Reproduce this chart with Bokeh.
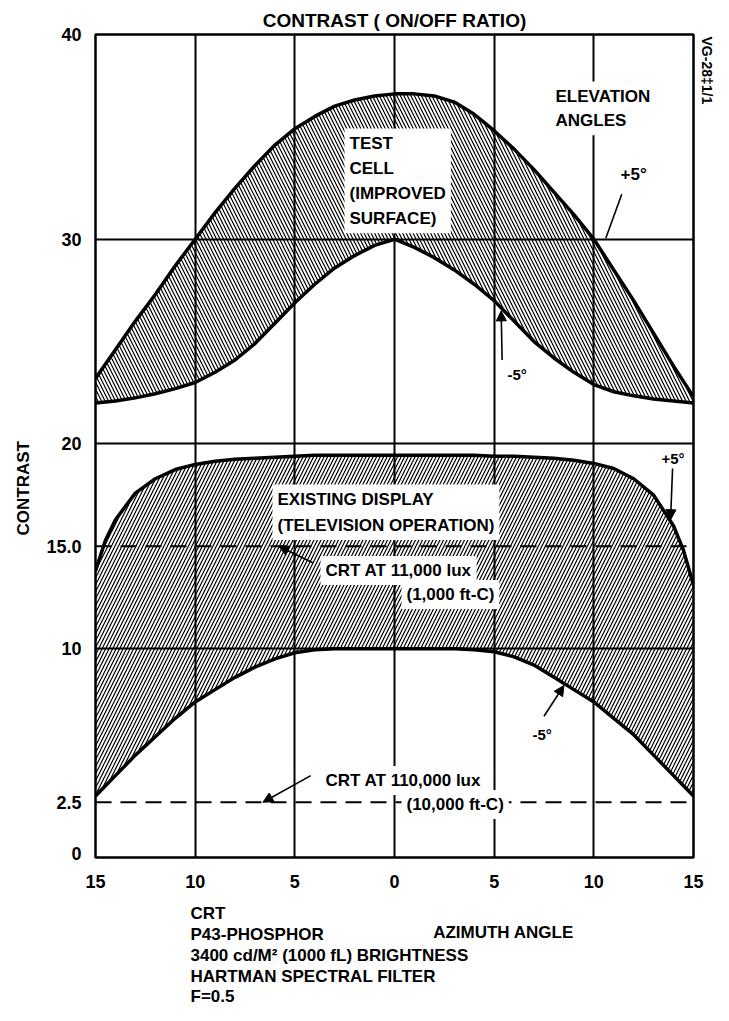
from bokeh.plotting import figure
from bokeh.models import FixedTicker, Span, Label, Arrow, NormalHead, Range1d, Title
from bokeh.layouts import column
from bokeh.embed import file_html
from bokeh.resources import INLINE

# ---------------- data ----------------
azimuth = [-15, -14, -13, -12, -11, -10, -9, -8, -7, -6, -5, -4, -3, -2, -1, 0,
           1, 2, 3, 4, 5, 6, 7, 8, 9, 10, 11, 12, 13, 14, 15]
# Test cell (improved surface), +5 deg elevation (upper) and -5 deg (lower)
test_upper = [23.2, 24.6, 26.0, 27.3, 28.7, 30.0, 31.3, 32.5, 33.6, 34.6, 35.4,
              36.0, 36.5, 36.8, 37.0, 37.1, 37.1, 37.0, 36.7, 36.1, 35.3, 34.4,
              33.4, 32.3, 31.2, 30.0, 28.5, 27.0, 25.4, 23.8, 22.3]
test_lower = [22.0, 22.1, 22.25, 22.45, 22.7, 23.0, 23.5, 24.1, 24.9, 25.9, 26.9,
              27.8, 28.6, 29.2, 29.7, 30.0, 29.6, 29.1, 28.5, 27.8, 27.0, 26.0,
              25.0, 24.2, 23.5, 22.9, 22.55, 22.35, 22.2, 22.1, 22.0]
# Existing display (television operation)
exist_azimuth = [-15, -14.5, -14, -13, -12, -11, -10, -9, -8, -7, -6, -5, -4, -3, -2, -1, 0,
                 1, 2, 3, 4, 5, 6, 7, 8, 9, 10, 11, 12, 13, 14, 14.5, 15]
exist_upper = [13.8, 15.3, 16.3, 17.6, 18.3, 18.75, 19.0, 19.15, 19.25, 19.3, 19.35, 19.4,
               19.45, 19.45, 19.45, 19.45, 19.45, 19.45, 19.45, 19.45, 19.45, 19.4, 19.4,
               19.35, 19.3, 19.2, 19.05, 18.8, 18.3, 17.5, 16.0, 14.8, 13.1]
exist_lower = [2.8, 3.3, 3.8, 4.8, 5.7, 6.6, 7.4, 8.0, 8.6, 9.1, 9.5, 9.8, 9.95, 10.0,
               10.0, 10.0, 10.0, 10.0, 10.0, 10.0, 9.95, 9.85, 9.6, 9.2, 8.6, 8.0, 7.4,
               6.6, 5.8, 4.8, 3.8, 3.3, 2.8]

x_ticks = [-15, -10, -5, 0, 5, 10, 15]
x_tick_labels = ["15", "10", "5", "0", "5", "10", "15"]
y_ticks = [0, 2.5, 10, 15, 20, 30, 40]
y_tick_labels = ["0", "2.5", "10", "15.0", "20", "30", "40"]
x_grid = [-10, -5, 0, 5, 10]
y_grid_solid = [10, 20, 30]
y_grid_dashed = [2.5, 15]

FONT = "Liberation Sans"

# ---------------- main chart ----------------
p = figure(width=721, height=892, x_range=Range1d(-15, 15), y_range=Range1d(-0.2, 40),
           output_backend="svg", toolbar_location=None,
           min_border_left=94, min_border_right=25, min_border_top=34, min_border_bottom=35)
p.title = Title(text="CONTRAST ( ON/OFF RATIO)", align="center", text_font=FONT,
                text_font_style="bold", text_font_size="19px", text_color="black",
                standoff=8, offset=-3)
p.background_fill_color = "white"
p.border_fill_color = "white"
p.outline_line_color = "black"
p.outline_line_width = 2.5

p.xaxis.ticker = FixedTicker(ticks=x_ticks)
p.xaxis.major_label_overrides = {t: l for t, l in zip(x_ticks, x_tick_labels)}
p.yaxis.ticker = FixedTicker(ticks=y_ticks)
p.yaxis.major_label_overrides = {t: l for t, l in zip(y_ticks, y_tick_labels)}
for ax in (p.xaxis[0], p.yaxis[0]):
    ax.axis_line_color = None
    ax.major_tick_line_color = None
    ax.minor_tick_line_color = None
    ax.major_tick_out = 0
    ax.major_tick_in = 0
    ax.major_label_text_font = FONT
    ax.major_label_text_font_style = "bold"
    ax.major_label_text_font_size = "18px"
    ax.major_label_text_color = "black"
p.xaxis.major_label_standoff = 17
p.yaxis.major_label_standoff = 14

# vertical y-axis caption, placed a bit below the frame's middle as in the original
p.add_layout(Title(text="CONTRAST", align="left", offset=322, text_font=FONT,
                   text_font_style="bold", text_font_size="17px", text_color="black",
                   standoff=22), "left")
# drawing number at the top right, read top to bottom
p.add_layout(Title(text="VG-28‡1/1", align="left", offset=2, text_font=FONT,
                   text_font_style="bold", text_font_size="14px", text_color="black",
                   standoff=10), "right")

p.xgrid.ticker = FixedTicker(ticks=x_grid)
p.ygrid.ticker = FixedTicker(ticks=y_grid_solid)
p.grid.grid_line_color = "black"
p.grid.grid_line_width = 2
p.grid.grid_line_alpha = 1

for v in y_grid_dashed:
    p.add_layout(Span(location=v, dimension="width", line_color="black",
                      line_width=2, line_dash="16 9"))

# hatched bands
p.varea(x=azimuth, y1=test_lower, y2=test_upper, fill_color="white", fill_alpha=0,
        hatch_pattern="left_diagonal_line", hatch_color="black", hatch_weight=1.2,
        hatch_scale=7)
p.varea(x=exist_azimuth, y1=exist_lower, y2=exist_upper, fill_color="white", fill_alpha=0,
        hatch_pattern="right_diagonal_line", hatch_color="black", hatch_weight=1.2,
        hatch_scale=7)
for ys, xs in ((test_upper, azimuth), (test_lower, azimuth),
               (exist_upper, exist_azimuth), (exist_lower, exist_azimuth)):
    p.line(xs, ys, line_color="black", line_width=3.5)

FRAME_L, FRAME_B = 102, 865  # page pixels of the main frame's left / bottom edge


def label_on(fig, left, bottom, text, px, py, align="left", baseline="middle", size="17px",
             bg=False, lh=1.2):
    lab = Label(x=px - left, y=bottom - py, x_units="screen", y_units="screen",
                text=text, text_align=align, text_baseline=baseline,
                text_font=FONT, text_font_style="bold", text_font_size=size,
                text_color="black", text_line_height=lh)
    if bg:
        lab.background_fill_color = "white"
        lab.padding = 5
    fig.add_layout(lab)


def plab(*a, **k):
    label_on(p, FRAME_L, FRAME_B, *a, **k)


def arrow(x0, y0, x1, y1, head=True):
    p.add_layout(Arrow(x_start=x0, y_start=y0, x_end=x1, y_end=y1, line_width=1.6,
                       line_color="black",
                       end=NormalHead(size=10, fill_color="black", line_color="black") if head else None))


# in-plot annotations
plab("TEST\nCELL\n(IMPROVED\nSURFACE)", 351, 136, baseline="top", bg=True, lh=1.33)
plab("ELEVATION\nANGLES", 557, 89, baseline="top", bg=True, lh=1.3)
plab("+5°", 622, 182, bg=True)
plab("-5°", 514, 382, size="15px")
plab("EXISTING DISPLAY\n(TELEVISION OPERATION)", 279, 492, baseline="top", bg=True, lh=1.4)
plab("+5°", 668, 466, size="15px")
plab("CRT AT 11,000 lux", 327, 578, bg=True)
plab("(1,000 ft-C)", 408, 602, bg=True)
plab("-5°", 539, 742, size="15px")
plab("CRT AT 110,000 lux", 327, 788, bg=True)
plab("(10,000 ft-C)", 408, 812, bg=True)

arrow(11.4, 32.2, 10.6, 30.05, head=False)
arrow(5.4, 24.1, 5.35, 26.5)
arrow(13.95, 18.8, 13.85, 16.3)
arrow(7.5, 6.7, 8.5, 8.2)
arrow(-4.1, 14.2, -5.8, 15.0)
arrow(-4.2, 3.8, -6.6, 2.5)

# ---------------- notes strip under the chart ----------------
NOTES_TOP, NOTES_H = 900, 113
notes = figure(width=721, height=NOTES_H, x_range=Range1d(0, 721), y_range=Range1d(0, NOTES_H),
               output_backend="svg", toolbar_location=None, min_border=0,
               x_axis_type=None, y_axis_type=None)
notes.outline_line_color = None
notes.grid.visible = False
notes.background_fill_color = "white"
notes.border_fill_color = "white"


def nlab(*a, **k):
    label_on(notes, 8, NOTES_TOP + NOTES_H, *a, **k)


nlab("CRT", 103, 921)
nlab("AZIMUTH ANGLE", 416, 940, align="center")
nlab("P43-PHOSPHOR", 103, 942)
nlab("3400 cd/M² (1000 fL) BRIGHTNESS", 103, 963)
nlab("HARTMAN SPECTRAL FILTER", 103, 984)
nlab("F=0.5", 103, 1004)

open("out.html", "w").write(file_html(column(p, notes, spacing=0), INLINE))
